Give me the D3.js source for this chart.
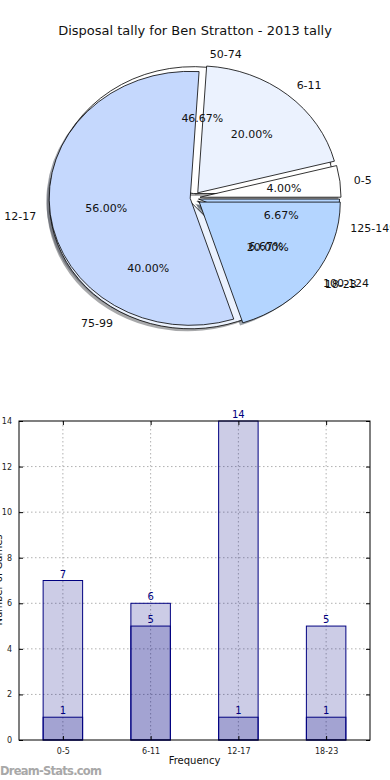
<!DOCTYPE html>
<meta charset="utf-8">
<html>
<head>
  <script src="https://d3js.org/d3.v7.min.js"></script>
  <style>
    body { margin: 0; background: #fff; }
    svg text { font-family: 'DejaVu Sans', sans-serif; }
    .pie-lbl { font-size: 11px; fill: #111; }
    .grid line { stroke: #b0b0b0; stroke-dasharray: 1.5 2.5; stroke-width: 1; }
    .tick-lbl { font-size: 8px; fill: #222; }
    .val-lbl { font-size: 10px; fill: #000080; }
  </style>
</head>
<body>
<script>
  // pie data (two pies drawn on top of each other)
  var freqBins = ["0-5", "6-11", "12-17", "18-23"];
  var freqVals = [1, 5, 14, 5];
  var dispBins = ["50-74", "75-99", "100-124", "125-149"];
  var dispVals = [7, 6, 1, 1];
  var wedgeColors = ["#ffffff", "#ebf2fe", "#c5d8fd", "#b4d5ff"];

  // bar data
  var barCats = ["0-5", "6-11", "12-17", "18-23"];
  var barTotal = [7, 6, 14, 5];
  var barLow = [1, 5, 1, 1];
  var yTicks = [0, 2, 4, 6, 8, 10, 12, 14];

  var W = 390, H = 780;
  var svg = d3.select("body").append("svg")
    .attr("width", W).attr("height", H);

  //Title
  svg.append("text")
    .attr("x", 195).attr("y", 35)
    .attr("text-anchor", "middle")
    .style("font-size", "13px").style("fill", "#111")
    .text("Disposal tally for Ben Stratton - 2013 tally");

  // ---- pie ----
  var cx = 193, cy = 198, rx = 141, ry = 127;
  var pieGen = d3.pie().sort(null)
    .startAngle(Math.PI / 2)
    .endAngle(Math.PI / 2 - 2 * Math.PI);   // counter-clockwise from 3 o'clock
  var arc = d3.arc().innerRadius(0).outerRadius(1);
  var fmt = d3.format(".2f");

  function buildPie(labels, vals, explode) {
    var total = d3.sum(vals);
    return pieGen(vals).map((d, i) => {
      var mid = (d.startAngle + d.endAngle) / 2;
      return {
        arc: d, label: labels[i], pct: fmt(vals[i] / total * 100) + "%",
        mid: mid, e: explode[i], color: wedgeColors[i]
      };
    });
  }
  var pieB = buildPie(dispBins, dispVals, [0.035, 0.035, 0.04, 0.04]);
  var pieA = buildPie(freqBins, freqVals, [0.05, 0.053, 0.02, 0.055]);

  function pos(w, k) {
    return [cx + (k + w.e) * rx * Math.sin(w.mid), cy - (k + w.e) * ry * Math.cos(w.mid)];
  }

  var pieG = svg.append("g");
  var allW = pieB.concat(pieA);

  // shadows first
  pieG.selectAll(".shadow").data(allW).enter().append("path")
    .attr("class", "shadow")
    .attr("d", w => arc(w.arc))
    .attr("transform", w => {
      var p = pos(w, 0);
      return `translate(${p[0] - 2.8},${p[1] + 2.5}) scale(${rx},${ry})`;
    })
    .attr("fill", w => d3.rgb(w.color).darker(3))
    .attr("fill-opacity", 0.5);

  // wedges (disposal pie under, frequency pie on top)
  pieG.selectAll(".wedge").data(allW).enter().append("path")
    .attr("class", "wedge")
    .attr("d", w => arc(w.arc))
    .attr("transform", w => {
      var p = pos(w, 0);
      return `translate(${p[0]},${p[1]}) scale(${rx},${ry})`;
    })
    .attr("fill", w => w.color)
    .attr("stroke", "#000")
    .attr("stroke-width", 0.8)
    .attr("vector-effect", "non-scaling-stroke")
    .attr("stroke-linejoin", "round");

  // labels
  pieG.selectAll(".lbl").data(allW).enter().append("text")
    .attr("class", "pie-lbl")
    .attr("x", w => pos(w, 1.1)[0])
    .attr("y", w => pos(w, 1.1)[1])
    .attr("dy", "0.35em")
    .attr("text-anchor", w => Math.sin(w.mid) > 0 ? "start" : "end")
    .text(w => w.label);

  pieG.selectAll(".pct").data(allW).enter().append("text")
    .attr("class", "pie-lbl")
    .attr("x", w => pos(w, 0.6)[0])
    .attr("y", w => pos(w, 0.6)[1])
    .attr("dy", "0.35em")
    .attr("text-anchor", "middle")
    .text(w => w.pct);

  // ---- bar chart ----
  var bx0 = 19, bx1 = 370, by0 = 421, by1 = 740;
  var x = d3.scaleLinear().domain([-0.5, 3.5]).range([bx0, bx1]);
  var y = d3.scaleLinear().domain([0, 14]).range([by1, by0]);
  var bw = x(0.45) - x(0);

  var bar = svg.append("g");

  //Grid
  var grid = bar.append("g").attr("class", "grid");
  grid.selectAll(".gy").data(yTicks.slice(1, -1)).enter().append("line")
    .attr("x1", bx0).attr("x2", bx1)
    .attr("y1", d => y(d)).attr("y2", d => y(d));
  grid.selectAll(".gx").data(barCats).enter().append("line")
    .attr("x1", (d, i) => x(i)).attr("x2", (d, i) => x(i))
    .attr("y1", by0).attr("y2", by1);

  // bars, navy with alpha so overlaps darken
  function drawBars(vals) {
    bar.append("g").selectAll("rect").data(vals).enter().append("rect")
      .attr("x", (d, i) => x(i) - bw / 2)
      .attr("width", bw)
      .attr("y", d => y(d))
      .attr("height", d => by1 - y(d))
      .attr("fill", "#000080").attr("fill-opacity", 0.2)
      .attr("stroke", "#000080").attr("stroke-width", 1);
  }
  drawBars(barTotal);
  drawBars(barLow);

  function drawVals(vals) {
    bar.append("g").selectAll("text").data(vals).enter().append("text")
      .attr("class", "val-lbl")
      .attr("x", (d, i) => x(i))
      .attr("y", d => y(d) - 3)
      .attr("text-anchor", "middle")
      .text(d => d);
  }
  drawVals(barTotal);
  drawVals(barLow);

  //Frame
  bar.append("rect")
    .attr("x", bx0).attr("y", by0)
    .attr("width", bx1 - bx0).attr("height", by1 - by0)
    .attr("fill", "none").attr("stroke", "#000").attr("stroke-width", 1);

  // Y axis ticks (inward, both sides)
  var yAx = bar.append("g")
    .attr("transform", `translate(${bx0},0)`)
    .call(d3.axisLeft(y).tickValues(yTicks).tickSize(-4).tickPadding(7));
  yAx.select(".domain").remove();
  yAx.selectAll("text").attr("class", "tick-lbl").style("font-family", "'DejaVu Sans', sans-serif").attr("font-size", null);
  var yAxR = bar.append("g")
    .attr("transform", `translate(${bx1},0)`)
    .call(d3.axisRight(y).tickValues(yTicks).tickSize(-4).tickFormat(""));
  yAxR.select(".domain").remove();

  // X axis
  var xAx = bar.append("g")
    .attr("transform", `translate(0,${by1})`)
    .call(d3.axisBottom(x).tickValues([0, 1, 2, 3]).tickSize(-4).tickPadding(8)
      .tickFormat(i => barCats[i]));
  xAx.select(".domain").remove();
  xAx.selectAll("text").attr("class", "tick-lbl").style("font-family", "'DejaVu Sans', sans-serif").attr("font-size", null);
  var xAxT = bar.append("g")
    .attr("transform", `translate(0,${by0})`)
    .call(d3.axisTop(x).tickValues([0, 1, 2, 3]).tickSize(-4).tickFormat(""));
  xAxT.select(".domain").remove();

  svg.append("text")
    .attr("x", x(1.5)).attr("y", 764)
    .attr("text-anchor", "middle")
    .style("font-size", "10px").style("fill", "#111")
    .text("Frequency");

  // y label mostly cut off at the left edge, as in the original
  svg.append("text")
    .attr("transform", "translate(1.5,580) rotate(-90)")
    .attr("text-anchor", "middle")
    .style("font-size", "10px").style("fill", "#111")
    .text("Number of Games");

  //Watermark
  svg.append("text")
    .attr("x", 0).attr("y", 775)
    .style("font-size", "11.5px").style("font-weight", "600").style("fill", "#a8a8a8")
    .attr("textLength", 102)
    .text("Dream-Stats.com");
</script>
</body>
</html>
